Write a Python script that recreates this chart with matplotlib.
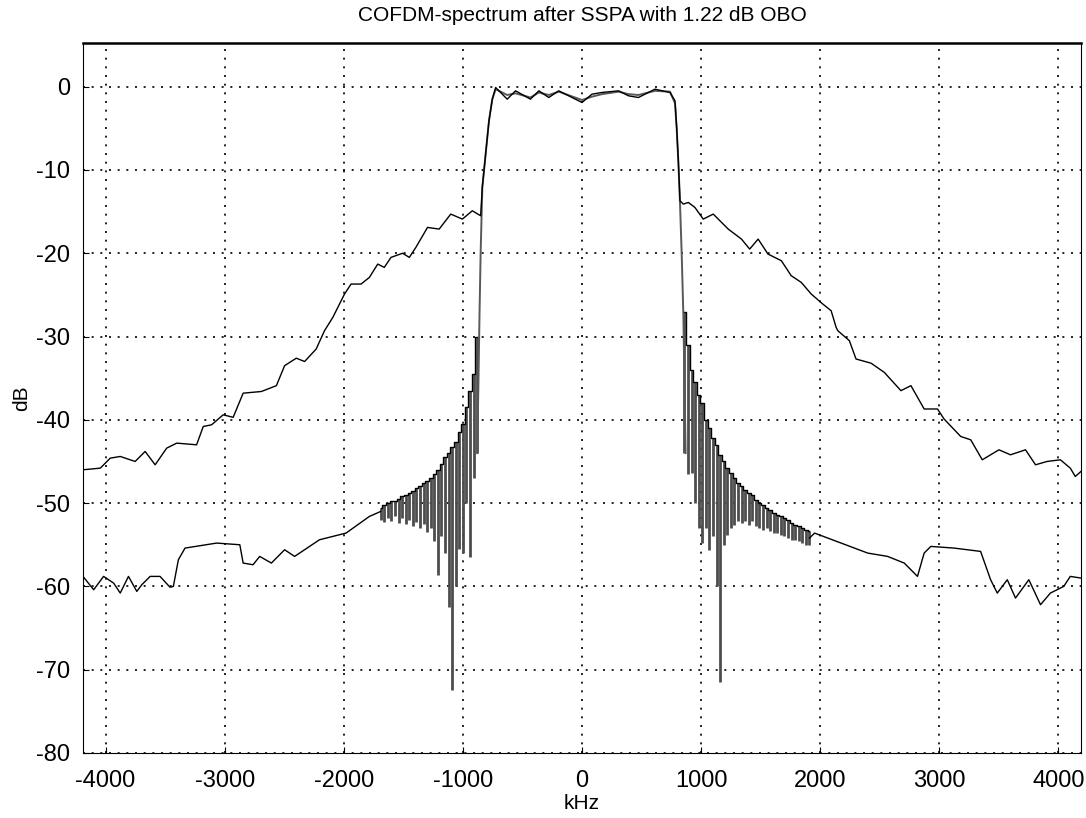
import numpy as np
import matplotlib
matplotlib.use("Agg")
import matplotlib.pyplot as plt

plt.rcParams['font.family'] = ['Liberation Sans', 'DejaVu Sans']
plt.rcParams['axes.unicode_minus'] = False

# upper curve: spectrum after SSPA (kHz, dB)
up_x = [-4190, -4044, -3961, -3877, -3752, -3668, -3584, -3487, -3403, -3236,
        -3180, -3110, -3013, -2929, -2845, -2692, -2566, -2497, -2399, -2329,
        -2232, -2162, -2092, -1994, -1939, -1855, -1785, -1715, -1660, -1604,
        -1506, -1450, -1395, -1297, -1199, -1102, -1004, -921, -851, -837,
        -809, -781, -753, -725, -628, -558, -433, -362, -279, -195, 0, 84,
        167, 307, 391, 474, 613, 739, 781, 795, 809, 823, 851, 893, 948,
        1018, 1102, 1172, 1228, 1339, 1408, 1479, 1562, 1674, 1757, 1841,
        1925, 2022, 2092, 2134, 2148, 2245, 2301, 2427, 2538, 2678, 2762,
        2873, 2985, 3040, 3180, 3264, 3361, 3501, 3598, 3724, 3808, 3905,
        4017, 4100, 4142, 4190]
up_y = [-46.0, -45.8, -44.6, -44.4, -45.0, -43.8, -45.4, -43.4, -42.8, -43.0,
        -40.8, -40.6, -39.4, -39.7, -36.8, -36.6, -35.9, -33.5, -32.6, -33.0,
        -31.5, -29.3, -27.7, -24.9, -23.7, -23.7, -22.9, -21.3, -21.7, -20.5,
        -20.0, -20.5, -19.3, -16.9, -17.1, -15.3, -15.9, -14.9, -15.5, -12.1,
        -8.1, -4.1, -1.5, -0.1, -1.5, -0.5, -1.5, -0.5, -1.3, -0.5, -1.9, -0.9,
        -0.7, -0.5, -1.1, -1.3, -0.3, -0.7, -1.7, -4.9, -8.9, -13.7, -14.1,
        -13.9, -14.5, -15.9, -15.3, -16.3, -17.1, -18.3, -19.5, -18.3, -20.1,
        -20.9, -22.7, -23.5, -24.9, -26.1, -26.9, -28.9, -29.3, -30.5, -32.7,
        -33.2, -34.3, -36.5, -35.9, -38.7, -38.7, -39.9, -42.0, -42.4, -44.8,
        -43.6, -44.2, -43.6, -45.4, -45.0, -44.8, -45.8, -46.8, -46.2]

# lower curve: floor on the left
low_l_x = [-4190, -4100, -4017, -3933, -3877, -3808, -3738, -3696, -3626, -3543,
           -3459, -3431, -3389, -3333, -3068, -2873, -2845, -2762, -2706, -2608,
           -2497, -2413, -2204, -1981, -1785, -1690]
low_l_y = [-58.8, -60.4, -58.8, -59.6, -60.8, -58.8, -60.6, -59.8, -58.8, -58.8,
           -60.1, -60.0, -56.8, -55.4, -54.8, -55.0, -57.2, -57.4, -56.4, -57.2,
           -55.6, -56.4, -54.4, -53.6, -51.6, -51.0]

# lower curve: band edges and passband
low_m_x = [-880, -870, -860, -851, -837, -809, -781, -753, -725, -628, -558,
           -433, -362, -279, -195, 0, 84, 167, 307, 391, 474, 613, 739, 781,
           795, 809, 823, 837, 851, 860, 870]
low_m_y = [-44.0, -36.0, -27.0, -20.0, -12.1, -8.1, -4.1, -1.5, -0.3, -1.0,
           -0.8, -1.3, -0.7, -1.0, -0.6, -1.6, -1.2, -0.9, -0.6, -0.9, -1.0,
           -0.5, -0.6, -2.0, -5.0, -9.0, -14.0, -20.0, -27.3, -35.0, -44.0]

# lower curve: floor on the right
low_r_x = [1910, 1953, 2176, 2399, 2566, 2706, 2817, 2873, 2929, 3124, 3347,
           3431, 3487, 3571, 3640, 3752, 3850, 3933, 4045, 4100, 4190]
low_r_y = [-54.2, -53.6, -54.8, -56.0, -56.4, -57.2, -58.8, -56.0, -55.2, -55.4,
           -55.8, -59.2, -60.8, -59.2, -61.4, -59.2, -62.2, -60.8, -60.0, -58.8,
           -59.0]

# ringing stripes (x, top, bottom) left of the band
ring_l_x = [-1690, -1660, -1630, -1600, -1570, -1540, -1510, -1480, -1450, -1420,
            -1390, -1360, -1330, -1300, -1270, -1240, -1210, -1180, -1150, -1120,
            -1090, -1060, -1030, -1000, -970, -940, -910, -880]
ring_l_top = [-50.6, -50.2, -50.0, -49.8, -49.7, -49.5, -49.2, -49.0, -48.8, -48.5,
              -48.2, -48.0, -47.6, -47.4, -47.0, -46.5, -46.0, -45.3, -44.5, -44.0,
              -43.3, -42.7, -41.5, -40.5, -38.5, -36.5, -34.5, -30.0]
ring_l_bot = [-52.0, -52.3, -51.8, -52.2, -51.6, -52.4, -51.8, -52.5, -52.0, -52.8,
              -52.3, -53.0, -52.5, -53.5, -53.0, -54.5, -58.6, -54.0, -56.0, -62.5,
              -72.4, -60.0, -55.5, -56.0, -50.0, -56.5, -47.0, -44.0]

# ringing stripes right of the band
ring_r_x = [860, 890, 920, 950, 980, 1010, 1040, 1070, 1100, 1130, 1160, 1190,
            1220, 1250, 1280, 1310, 1340, 1370, 1400, 1430, 1460, 1490, 1520,
            1550, 1580, 1610, 1640, 1670, 1700, 1730, 1760, 1790, 1820, 1850,
            1880, 1910]
ring_r_top = [-27.0, -31.0, -34.0, -35.5, -37.0, -38.0, -40.0, -41.0, -42.2, -43.0,
              -44.2, -45.0, -45.8, -46.4, -47.0, -47.6, -48.0, -48.4, -48.8, -49.0,
              -49.6, -50.0, -50.2, -50.6, -50.8, -51.2, -51.4, -51.6, -51.8, -52.0,
              -52.4, -52.6, -52.8, -53.0, -53.2, -53.4]
ring_r_bot = [-44.0, -46.5, -46.4, -50.0, -53.0, -54.8, -53.0, -55.6, -54.0, -60.0,
              -71.5, -55.0, -53.8, -53.0, -52.6, -52.2, -52.4, -52.2, -52.6, -52.2,
              -52.8, -53.0, -53.2, -53.0, -53.4, -53.6, -53.6, -53.8, -54.0, -54.2,
              -54.4, -54.4, -54.6, -54.8, -55.0, -55.0]

xticks = [-4000, -3000, -2000, -1000, 0, 1000, 2000, 3000, 4000]
yticks = [-80, -70, -60, -50, -40, -30, -20, -10, 0]

fig = plt.figure(figsize=(10.86, 8.18), dpi=100)
ax = fig.add_axes([0.0764, 0.0795, 0.919, 0.8675])

ax.vlines(ring_l_x, ring_l_bot, ring_l_top, color='0.3', lw=2.0)
ax.vlines(ring_r_x, ring_r_bot, ring_r_top, color='0.3', lw=2.0)
ax.plot(ring_l_x, ring_l_top, color='black', lw=1.0, drawstyle='steps-mid')
ax.plot(ring_r_x, ring_r_top, color='black', lw=1.0, drawstyle='steps-mid')
ax.plot(low_l_x, low_l_y, color='black', lw=1.0)
ax.plot(low_m_x, low_m_y, color='0.35', lw=1.4)
ax.plot(low_r_x, low_r_y, color='black', lw=1.0)
ax.plot(up_x, up_y, color='black', lw=1.0)

ax.set_xlim(-4190, 4190)
ax.set_ylim(-80, 5.2)
ax.set_xticks(xticks)
ax.set_yticks(yticks)
ax.grid(True, color='black', linestyle=(0, (1.2, 4)), lw=1.2)
ax.tick_params(direction='in', length=4, labelsize=17, pad=10)
ax.tick_params(axis='y', pad=9)
ax.tick_params(axis='x', pad=12)
ax.spines['top'].set_linewidth(1.8)

ax.set_title('COFDM-spectrum after SSPA with 1.22 dB OBO', fontsize=15, pad=16)
ax.set_xlabel('kHz', fontsize=15, labelpad=2)
ax.set_ylabel('dB', fontsize=15, labelpad=4)

fig.savefig('out.png', dpi=100)
